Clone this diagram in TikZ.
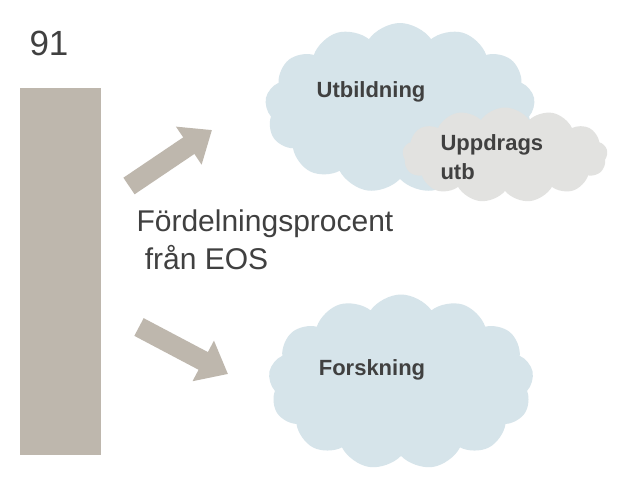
\documentclass[tikz,border=0pt]{standalone}
\usepackage{fontspec}
\setmainfont{Liberation Sans}
\usetikzlibrary{shapes.symbols,arrows.meta}
\definecolor{barc}{RGB}{190,183,173}
\definecolor{cloudb}{RGB}{214,228,234}
\definecolor{cloudg}{RGB}{226,226,224}
\definecolor{txt}{RGB}{64,64,64}
\tikzset{
  cloudbox/.style={cloud, cloud puffs=13, cloud puff arc=110, fill=#1, draw=none, inner sep=0pt},
  lbl/.style={font=\bfseries\fontsize{22}{29}\selectfont, text=txt, align=left},
  bigarrow/.style={barc, line width=20pt, -{Triangle[length=28pt,width=44pt]}}
}
\begin{document}
\begin{tikzpicture}[x=1pt,y=-1pt]
\useasboundingbox[fill=white] (0,0) rectangle (626,477);
\node[fill=barc, minimum width=81pt, minimum height=367pt, inner sep=0pt] (bar) at (60.5,271.5) {};
\node[font=\fontsize{35}{40}\selectfont, text=txt] (n91) at (49,43) {91};
\node[cloudbox=cloudb, minimum width=270pt, minimum height=170pt] (c1) at (400,108) {};
\node[cloudbox=cloudg, minimum width=205pt, minimum height=95pt] (c2) at (505,155) {};
\node[cloudbox=cloudb, minimum width=265pt, minimum height=175pt] (c3) at (401,382) {};
\node[lbl] (t1) at (371,92) {Utbildning};
\node[lbl, anchor=west] (t2) at (437,157) {Uppdrags\\utb};
\node[lbl] (t3) at (372,370) {Forskning};
\node[font=\fontsize{30}{38}\selectfont, text=txt, align=left, anchor=west] (fp) at (133,240) {Fördelningsprocent\\\ från EOS};
\coordinate (a1s) at (129,186);
\coordinate (a1e) at (212,130);
\coordinate (a2s) at (139,327);
\coordinate (a2e) at (228,374);
\draw[bigarrow] (a1s) -- (a1e);
\draw[bigarrow] (a2s) -- (a2e);
\end{tikzpicture}
\end{document}
